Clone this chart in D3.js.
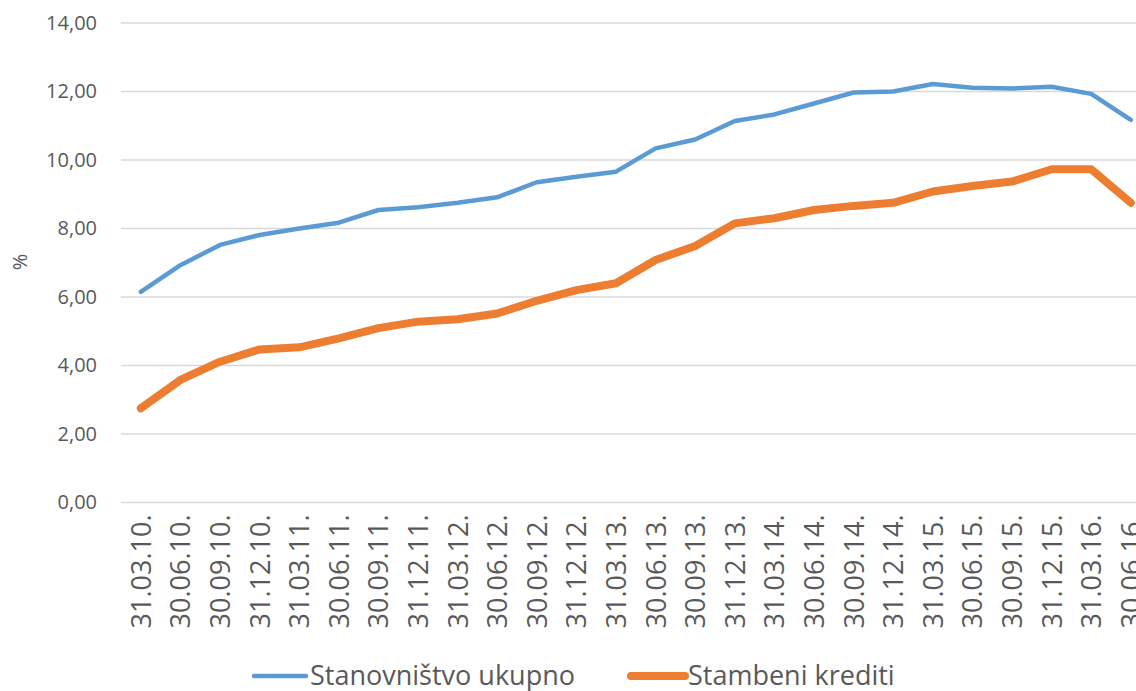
<!DOCTYPE html>
<html>
<head>
<meta charset="utf-8">
<script src="https://cdn.jsdelivr.net/npm/d3@7"></script>
<style>
  body { margin: 0; background: #fff; }
  text { font-family: "Open Sans", "Noto Sans", sans-serif; fill: #595959; }
</style>
</head>
<body>
<svg id="chart" width="1136" height="691"></svg>
<script>
//quarter end dates (categories)
var dates = ["31.03.10.","30.06.10.","30.09.10.","31.12.10.","31.03.11.","30.06.11.","30.09.11.","31.12.11.",
	"31.03.12.","30.06.12.","30.09.12.","31.12.12.","31.03.13.","30.06.13.","30.09.13.","31.12.13.",
	"31.03.14.","30.06.14.","30.09.14.","31.12.14.","31.03.15.","30.06.15.","30.09.15.","31.12.15.",
	"31.03.16.","30.06.16."];

//series values in %
var stanovnistvo = [6.15, 6.93, 7.52, 7.81, 8.00, 8.17, 8.54, 8.62, 8.75, 8.91, 9.35, 9.51, 9.66, 10.34,
	10.60, 11.14, 11.33, 11.65, 11.97, 12.00, 12.22, 12.11, 12.09, 12.14, 11.93, 11.17];
var stambeni = [2.75, 3.58, 4.11, 4.47, 4.53, 4.79, 5.09, 5.28, 5.35, 5.52, 5.89, 6.20, 6.40, 7.08,
	7.49, 8.15, 8.30, 8.54, 8.66, 8.75, 9.08, 9.24, 9.37, 9.73, 9.73, 8.75];

var yTicks = [0, 2, 4, 6, 8, 10, 12, 14];
var seriesNames = ["Stanovništvo ukupno", "Stambeni krediti"];

var blue = "#5B9BD5",
	orange = "#ED7D31",
	gridColor = "#D9D9D9";

var svg = d3.select("#chart");

//plot area runs past the right edge, like the original screenshot
var plotLeft = 121,
	step = 39.6,
	plotTop = 23,
	plotBottom = 502.5;

var x = d3.scalePoint()
	.domain(dates)
	.range([plotLeft, plotLeft + dates.length * step])
	.padding(0.5);

var y = d3.scaleLinear()
	.domain([0, 14])
	.range([plotBottom, plotTop]);

//gridlines
svg.append("g")
	.selectAll("line")
	.data(yTicks)
	.enter().append("line")
	.attr("x1", plotLeft)
	.attr("x2", 1136)
	.attr("y1", function(d){ return y(d); })
	.attr("y2", function(d){ return y(d); })
	.attr("stroke", gridColor)
	.attr("stroke-width", 1.3);

//y axis labels
var yAxis = svg.append("g")
	.attr("transform", "translate(" + (plotLeft - 24) + ",0)")
	.call(d3.axisLeft(y).tickValues(yTicks).tickSize(0).tickPadding(0)
		.tickFormat(function(d){ return d3.format(".2f")(d).replace(".", ","); }));
yAxis.select(".domain").remove();
yAxis.attr("font-family", null);
yAxis.selectAll("text")
	.attr("font-size", "20px")
	.attr("fill", "#595959");

//x axis labels, rotated
var xAxis = svg.append("g")
	.attr("transform", "translate(0," + plotBottom + ")")
	.call(d3.axisBottom(x).tickSize(0));
xAxis.select(".domain").remove();
xAxis.attr("font-family", null);
xAxis.selectAll("text")
	.attr("font-size", "27px")
	.attr("fill", "#595959")
	.attr("transform", "rotate(-90)")
	.attr("text-anchor", "end")
	.attr("x", -12)
	.attr("y", 0)
	.attr("dy", "0.35em");

//y axis title
svg.append("text")
	.attr("transform", "translate(20,262) rotate(-90)")
	.attr("text-anchor", "middle")
	.attr("dy", "0.35em")
	.attr("font-size", "20px")
	.text("%");

//lines
var line = d3.line()
	.x(function(d, i){ return x(dates[i]); })
	.y(function(d){ return y(d); });

svg.append("path")
	.datum(stanovnistvo)
	.attr("d", line)
	.attr("fill", "none")
	.attr("stroke", blue)
	.attr("stroke-width", 4.5)
	.attr("stroke-linecap", "round")
	.attr("stroke-linejoin", "round");

svg.append("path")
	.datum(stambeni)
	.attr("d", line)
	.attr("fill", "none")
	.attr("stroke", orange)
	.attr("stroke-width", 8)
	.attr("stroke-linecap", "round")
	.attr("stroke-linejoin", "round");

//legend
var legendItems = [
	{name: seriesNames[0], color: blue, width: 4.5, x1: 254, x2: 306, tx: 310},
	{name: seriesNames[1], color: orange, width: 8, x1: 631, x2: 685, tx: 688}
];
var legend = svg.append("g");
legend.selectAll("line")
	.data(legendItems)
	.enter().append("line")
	.attr("x1", function(d){ return d.x1; })
	.attr("x2", function(d){ return d.x2; })
	.attr("y1", 676)
	.attr("y2", 676)
	.attr("stroke", function(d){ return d.color; })
	.attr("stroke-width", function(d){ return d.width; })
	.attr("stroke-linecap", "round");
legend.selectAll("text")
	.data(legendItems)
	.enter().append("text")
	.attr("x", function(d){ return d.tx; })
	.attr("y", 676)
	.attr("dy", "0.35em")
	.attr("font-size", "27px")
	.text(function(d){ return d.name; });
</script>
</body>
</html>
